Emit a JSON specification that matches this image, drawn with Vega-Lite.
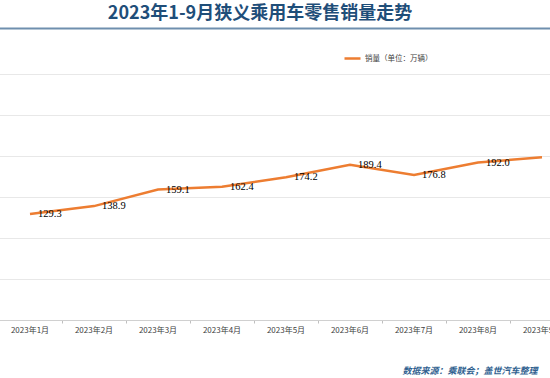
{
  "$schema": "https://vega.github.io/schema/vega-lite/v6.json",
  "width": 576,
  "height": 246,
  "autosize": {"type": "none"},
  "padding": {"left": -2, "top": 74, "right": 0, "bottom": 58},
  "background": "white",
  "title": {
    "text": "2023年1-9月狭义乘用车零售销量走势",
    "anchor": "middle",
    "dx": -26,
    "dy": 17,
    "baseline": "bottom",
    "offset": 4,
    "font": "Noto Sans CJK SC",
    "fontSize": 18,
    "fontWeight": "bold",
    "color": "#1f4e79"
  },
  "data": {
    "values": [
      {"month": "2023年1月", "sales": 129.3},
      {"month": "2023年2月", "sales": 138.9},
      {"month": "2023年3月", "sales": 159.1},
      {"month": "2023年4月", "sales": 162.4},
      {"month": "2023年5月", "sales": 174.2},
      {"month": "2023年6月", "sales": 189.4},
      {"month": "2023年7月", "sales": 176.8},
      {"month": "2023年8月", "sales": 192.0},
      {"month": "2023年9月", "sales": 198.5}
    ]
  },
  "encoding": {
    "y": {
      "field": "sales",
      "type": "quantitative",
      "scale": {"domain": [0, 300], "nice": false, "zero": true},
      "axis": {
        "title": null,
        "labels": false,
        "ticks": false,
        "domain": false,
        "values": [0, 50, 100, 150, 200, 250, 300],
        "gridColor": "#e8e8e8",
        "gridWidth": 1
      }
    }
  },
  "layer": [
    {
      "mark": {"type": "line", "strokeWidth": 2.5, "interpolate": "linear"},
      "encoding": {
        "x": {
          "field": "month",
          "type": "nominal",
          "sort": null,
          "bandPosition": 0.5,
          "scale": {"type": "band", "paddingInner": 0, "paddingOuter": 0},
          "axis": {
            "orient": "bottom",
            "title": "数据来源：乘联会；盖世汽车整理",
            "titleFont": "Noto Sans CJK SC",
            "titleFontSize": 9,
            "titleFontStyle": "italic",
            "titleFontWeight": "bold",
            "titleColor": "#2f5f8f",
            "titleAlign": "right",
            "titleBaseline": "middle",
            "titleX": 539,
            "titleY": 50,
            "labelAngle": 0,
            "labelFont": "Noto Sans CJK SC",
            "labelFontSize": 8,
            "labelColor": "#404040",
            "labelPadding": 3,
            "bandPosition": 0,
            "tickSize": 3,
            "tickColor": "#bfbfbf",
            "domainColor": "#d0d0d0",
            "grid": false
          }
        },
        "color": {
          "datum": "销量（单位：万辆）",
          "type": "nominal",
          "scale": {"range": ["#ED7D31"]},
          "legend": {
            "title": null,
            "orient": "none",
            "legendX": 345,
            "legendY": -25,
            "symbolType": "stroke",
            "symbolStrokeWidth": 2.5,
            "symbolSize": 256,
            "labelFont": "Noto Sans CJK SC",
            "labelFontSize": 7.5,
            "labelColor": "#404040",
            "labelOffset": 3
          }
        }
      }
    },
    {
      "transform": [{"filter": "datum.month != '2023年9月'"}],
      "mark": {
        "type": "text",
        "align": "left",
        "baseline": "middle",
        "dx": 8,
        "font": "Liberation Serif",
        "fontSize": 10.5,
        "color": "#000000"
      },
      "encoding": {
        "x": {
          "field": "month",
          "type": "nominal",
          "sort": null,
          "bandPosition": 0.5,
          "axis": {
            "orient": "top",
            "offset": 46,
            "labels": false,
            "ticks": false,
            "title": null,
            "grid": false,
            "domainColor": "#6f8fae",
            "domainWidth": 2
          }
        },
        "text": {"field": "sales", "type": "quantitative", "format": ".1f"}
      }
    }
  ],
  "resolve": {"axis": {"x": "independent"}}
}
